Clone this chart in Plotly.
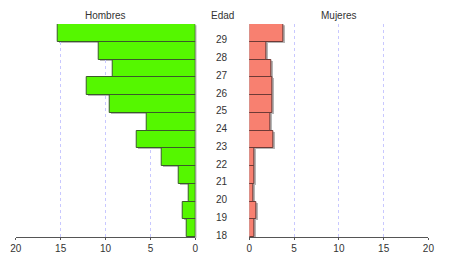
import plotly.graph_objects as go

ages = [18, 19, 20, 21, 22, 23, 24, 25, 26, 27, 28, 29]
hombres = [1.0, 1.4, 0.7, 1.9, 3.75, 6.5, 5.4, 9.5, 12.1, 9.2, 10.8, 15.3]
mujeres = [0.6, 0.75, 0.4, 0.55, 0.6, 2.7, 2.35, 2.55, 2.6, 2.5, 1.9, 3.8]
ticks = [0, 5, 10, 15, 20]

W, H = 450, 261
font = dict(family="Liberation Sans, Arial, sans-serif", size=10, color="#333333")
shadow = "rgba(90,90,90,0.45)"

fig = go.Figure()
# shadows (drawn first, in slightly offset subplots)
fig.add_trace(go.Bar(x=hombres, y=ages, orientation="h", xaxis="x", yaxis="y", width=1,
                     marker=dict(color=shadow, line=dict(width=0)),
                     showlegend=False, hoverinfo="skip"))
fig.add_trace(go.Bar(x=mujeres, y=ages, orientation="h", xaxis="x2", yaxis="y2", width=1,
                     marker=dict(color=shadow, line=dict(width=0)),
                     showlegend=False, hoverinfo="skip"))
# real bars
fig.add_trace(go.Bar(
    x=hombres, y=ages, orientation="h", xaxis="x3", yaxis="y3", width=1,
    marker=dict(color="#55F700", line=dict(color="#3A5A2A", width=1)),
    showlegend=False, hoverinfo="x+y"))
fig.add_trace(go.Bar(
    x=mujeres, y=ages, orientation="h", xaxis="x4", yaxis="y4", width=1,
    marker=dict(color="#F88070", line=dict(color="#6E3A36", width=1)),
    showlegend=False, hoverinfo="x+y"))

ydom = [(H - 237) / H, (H - 24) / H]
sdom = [ydom[0] - 1.2 / H, ydom[1] - 1.2 / H]
dx = 1.2 / W
Lx = [10 / W, 194.5 / W]
Rx = [250 / W, 434 / W]

common_x = dict(
    tickvals=ticks, ticktext=[str(t) for t in ticks],
    showgrid=True, gridcolor="#C8C8FF", griddash="dot", gridwidth=1,
    zeroline=False, showline=True, linecolor="#555555", linewidth=1,
    ticks="outside", ticklen=2, tickcolor="#555555", tickfont=font,
    fixedrange=True,
)
hidden = dict(visible=False, showgrid=False, zeroline=False, fixedrange=True)
yax = dict(range=[17.5, 29.5], showticklabels=False, showgrid=False, zeroline=False,
           showline=False, ticks="", fixedrange=True)

fig.update_layout(
    width=W, height=H,
    margin=dict(l=0, r=0, t=0, b=0),
    paper_bgcolor="white", plot_bgcolor="rgba(0,0,0,0)",
    bargap=0,
    xaxis=dict(domain=[Lx[0] + dx, Lx[1] + dx], range=[20, 0], anchor="y", **hidden),
    yaxis=dict(domain=sdom, anchor="x", **yax),
    xaxis2=dict(domain=[Rx[0] + dx, Rx[1] + dx], range=[0, 20], anchor="y2", **hidden),
    yaxis2=dict(domain=sdom, anchor="x2", **yax),
    xaxis3=dict(domain=Lx, range=[20, 0], anchor="y3", **common_x),
    yaxis3=dict(domain=ydom, anchor="x3", **yax),
    xaxis4=dict(domain=Rx, range=[0, 20], anchor="y4", **common_x),
    yaxis4=dict(domain=ydom, anchor="x4", **yax),
    font=font,
)

annotations = []
for a in ages:
    annotations.append(dict(x=222 / W, xref="paper", y=a, yref="y3", yshift=-7,
                            text=str(a), showarrow=False, xanchor="center",
                            yanchor="middle", font=font))
hy = (H - 16) / H
for txt, xp in [("Hombres", 102), ("Edad", 222), ("Mujeres", 342)]:
    annotations.append(dict(x=xp / W, xref="paper", y=hy, yref="paper", text=txt,
                            showarrow=False, xanchor="center", yanchor="middle", font=font))
fig.update_layout(annotations=annotations)

fig.write_html("out.html", config={"displayModeBar": False},
               post_script="document.body.style.margin='0';")
